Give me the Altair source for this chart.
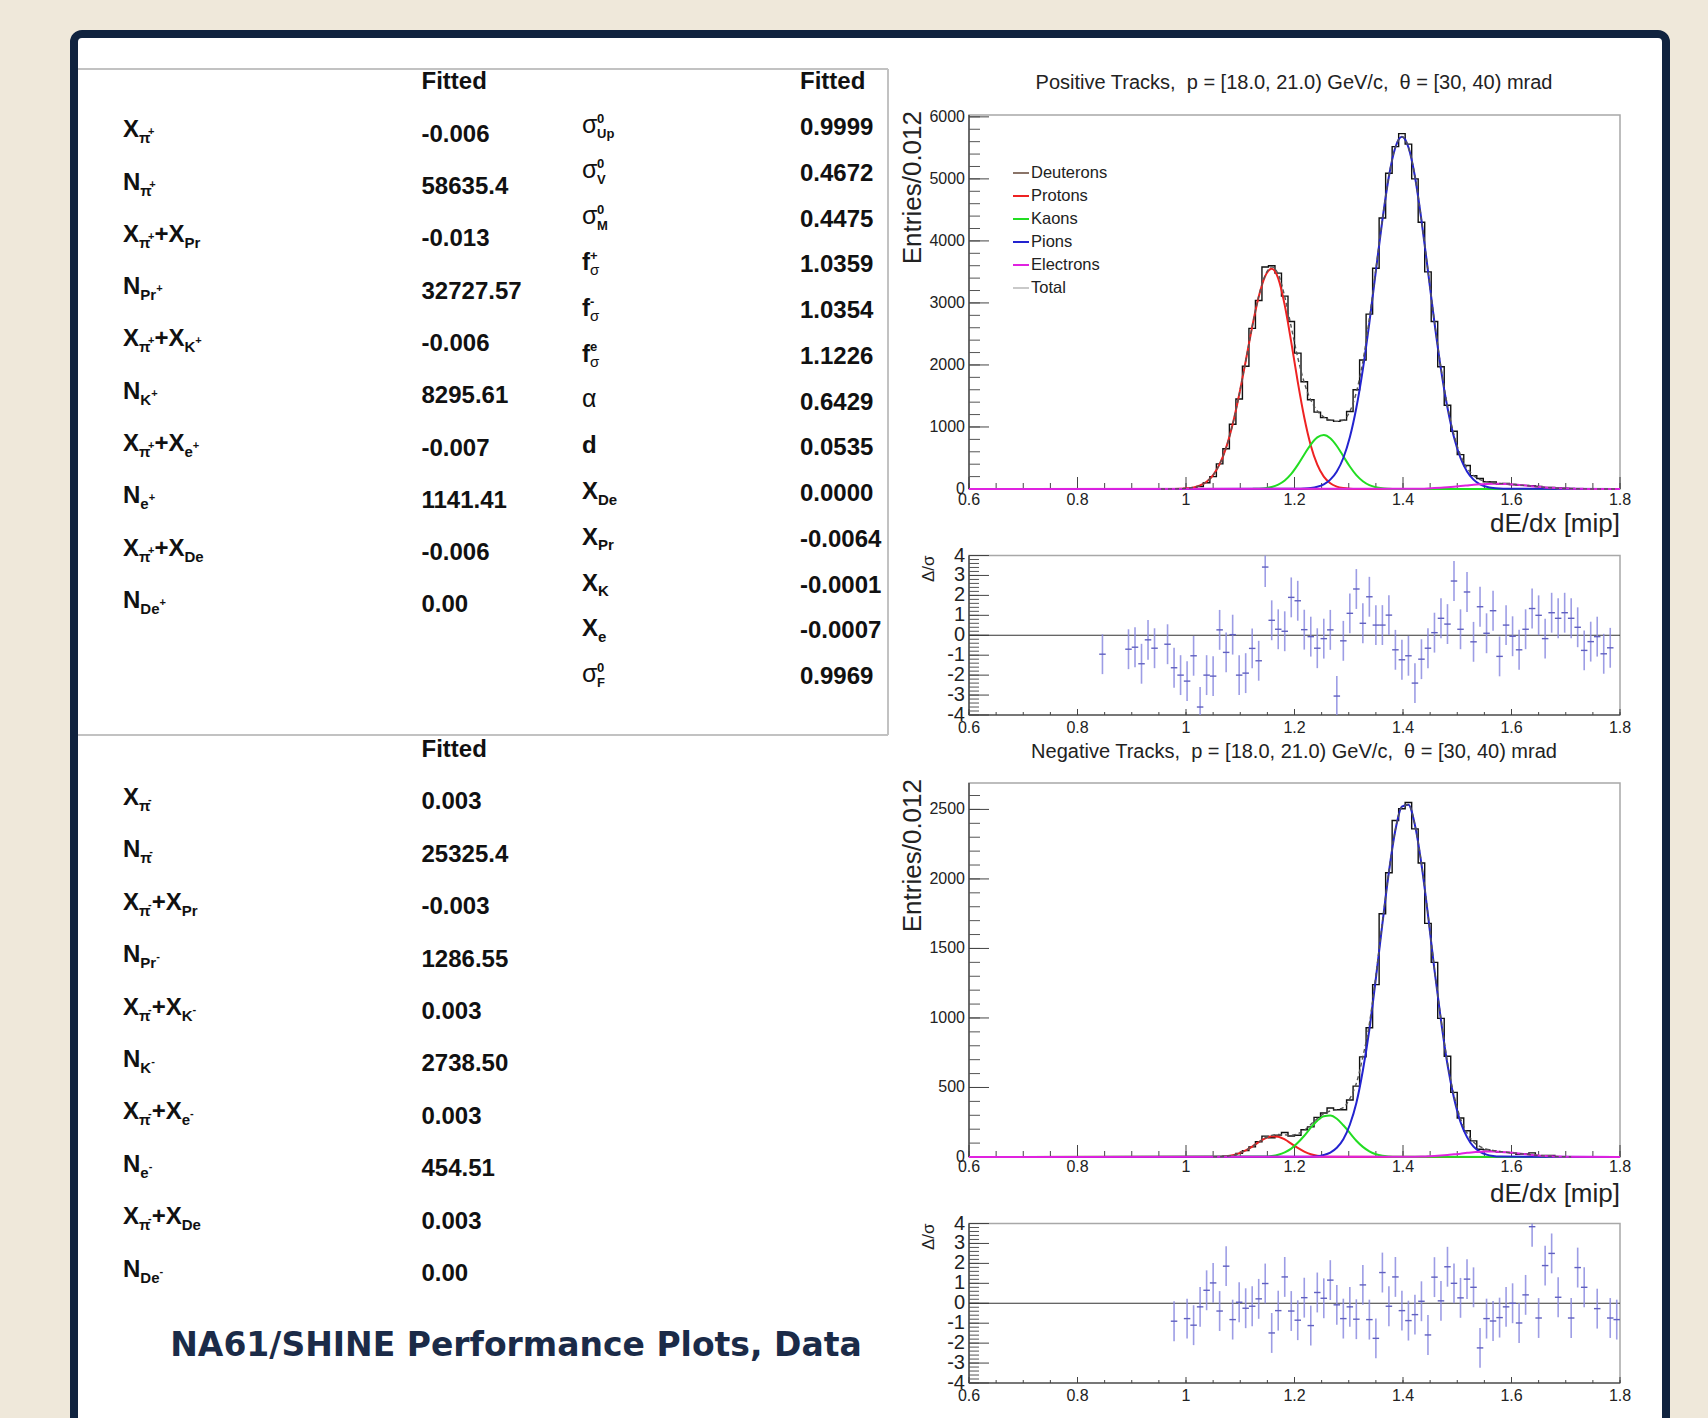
import altair as alt
import pandas as pd

W, H = 1708, 1418
FONT = "Liberation Sans"
TXT = "#222222"
NAVY = "#10233f"
BEIGE = "#efe8da"
NB = "\u00a0"

# ---------------- data ----------------
X_LO, X_HI, BIN_W, N_BINS = 0.6, 1.8, 0.012, 100
series_names = ["Deuterons", "Protons", "Kaons", "Pions", "Electrons", "Total"]
series_colors = ["#8a7468", "#ee2222", "#22dd22", "#2323cf", "#e022e0", "#c9c9c9"]

# positive tracks: entries per 0.012 bin, starting at the given bin index
pos_hist_first = 29
pos_hist = [0, 1, 1, 3, 8, 20, 40, 100, 200, 405,
            650, 1045, 1450, 1980, 2590, 3040, 3580, 3600, 3480, 3110,
            2700, 2190, 1730, 1440, 1240, 1150, 1110, 1090, 1110, 1250,
            1600, 2080, 2820, 3560, 4370, 5090, 5520, 5730, 5560, 5000,
            4300, 3500, 2700, 1970, 1350, 930, 555, 380, 215, 170,
            118, 112, 81, 88, 72, 60, 58, 55, 41, 25,
            24, 16, 13, 8, 5, 1, 1, 1, 0, 0, 0]
pos_total_first = 29
pos_total = [0, 1, 2, 5, 11, 26, 58, 118, 224, 401,
             667, 1043, 1520, 2061, 2616, 3103, 3445, 3582, 3465, 3103,
             2612, 2120, 1716, 1436, 1260, 1160, 1110, 1090, 1110, 1250,
             1560, 2055, 2745, 3543, 4346, 5043, 5511, 5680, 5510, 5043,
             4341, 3525, 2698, 1951, 1339, 872, 548, 341, 219, 151,
             118, 101, 91, 83, 74, 65, 55, 45, 35, 26,
             19, 13, 9, 6, 3, 2, 1, 0, 0, 0, 0]
pos_deut_first, pos_deut = 0, []
pos_prot_first, pos_prot = 29, [0, 1, 2, 5, 11, 26, 58, 118, 224, 401, 667, 1043, 1520, 2060, 2614, 3098,
                                3432, 3550, 3394, 2965, 2368, 1728, 1153, 703, 392, 199, 93, 39, 15, 5, 2]
pos_kaon_first, pos_kaon = 42, [0.5, 2, 5, 13, 32, 71, 138, 244, 389, 556, 717, 832, 870, 818, 693, 528,
                                362, 223, 125, 62, 28, 11, 4, 1]
pos_pion_first, pos_pion = 50, [3, 7, 16, 36, 75, 151, 283, 500, 834, 1310, 1930, 2683, 3515, 4335, 5039,
                                5510, 5680, 5510, 5039, 4335, 3515, 2683, 1930, 1310, 834, 500, 283, 151,
                                75, 36, 16, 7, 3]
pos_elec_first, pos_elec = 68, [4, 6, 10, 15, 21, 29, 38, 48, 58, 68, 76, 82, 85, 84, 80, 74, 65, 55, 45,
                                35, 26, 19, 13, 9, 6, 3, 2, 1, 0]
pos_res_bins = [20, 24, 25, 26, 27, 28] + list(range(30, 99))
pos_res = [-0.95,
           -0.7, -0.6, -1.43, -0.23, -0.65,
           -0.45, -1.63, -2.0, -2.3, -1.03, -3.6, -2.0, -2.05, 0.27, -0.86,
           0.03, -2.0, -1.9, -0.66, -1.28, 3.42, 0.75, 0.3, 0.2, 1.9,
           1.73, 0.28, -0.07, -0.65, -0.17, 0.27, -3.05, -0.28, 1.1, 2.32,
           0.6, 1.93, 0.51, 0.51, 1.01, -0.73, -1.23, -1.03, -2.4, -1.2,
           -0.65, 0.13, 0.85, 0.56, 2.72, 0.3, 2.17, -0.33, 1.43, 0.1,
           1.23, -1.06, 0.51, -0.05, -0.73, 0.3, 1.34, 1.0, -0.17, 1.13,
           0.85, 1.13, 0.85, 0.4, -0.76, -0.32, -0.07, -0.93, -0.63]

# negative tracks
neg_hist_first = 30
neg_hist = [0, 0, 0, 0, 0, 1, 2, 2, 1, 8,
            10, 26, 46, 73, 110, 150, 138, 157, 176, 151,
            156, 196, 217, 285, 316, 352, 340, 340, 410, 510,
            720, 930, 1240, 1750, 2045, 2420, 2505, 2550, 2360, 2115,
            1680, 1400, 997, 725, 465, 280, 189, 116, 56, 51,
            41, 36, 33, 30, 20, 22, 30, 9, 12, 11,
            3, 2, 0, 2, 1, 0, 0, 0, 0, 0]
neg_total_first = 37
neg_total = [1, 2, 5, 12, 26, 47, 75, 107, 137, 156,
             162, 159, 156, 167, 192, 234, 276, 312, 331, 341,
             355, 420, 530, 720, 958, 1304, 1686, 2053, 2354, 2520,
             2534, 2389, 2110, 1748, 1352, 993, 679, 444, 276, 173,
             108, 75, 57, 47, 40, 34, 30, 25, 20, 15,
             11, 7, 5, 3, 2, 1]
neg_deut_first, neg_deut = 0, []
neg_prot_first, neg_prot = 37, [1, 2, 5, 12, 26, 47, 75, 107, 134, 149, 146, 126, 96, 65, 39, 20, 9, 4, 1]
neg_kaon_first, neg_kaon = 45, [3, 7, 16, 33, 60, 102, 153, 211, 261, 293, 298, 275, 228, 173, 117, 73,
                                41, 20, 9, 4, 1.5]
neg_pion_first, neg_pion = 52, [2.5, 6, 15, 32, 66, 127, 232, 388, 622, 917, 1284, 1677, 2049, 2352, 2520,
                                2534, 2387, 2107, 1743, 1345, 983, 665, 425, 252, 143, 74, 37, 17, 7, 3]
neg_elec_first, neg_elec = 68, [2, 3, 5, 7, 10, 14, 19, 24, 30, 34, 38, 39.5, 40, 37, 34, 30, 25, 20, 15,
                                11, 7, 5, 3, 2]
neg_res_bins = [31] + list(range(33, 91)) + [92, 93, 94, 96, 98, 99]
neg_res = [-0.9,
           -0.77, -1.1, -0.18, 0.65, 1.02, -0.39, 1.86,
           -0.82, 0.05, -0.25, -0.15, 0.22, 0.99, -1.49, -0.37, 1.32, -0.39,
           -0.85, 0.28, -1.12, 0.54, 0.25, 1.16, -0.08, -0.77, -0.18, -0.8,
           0.92, -0.82, -1.76, 1.54, -0.15, 1.32, -0.37, -0.87, -0.57, 0.1,
           -1.59, 1.31, 0.12, 1.83, 1.0, 0.27, 1.21, 0.8, -2.24, -0.77,
           -0.89, -0.72, -0.18, 0.0, -0.99, 0.42, 3.84, -0.74, 1.89, 2.5,
           0.3,
           -0.74, 1.79, 0.8, -0.27, -0.74, -0.82]

# axis ticks / labels
x_major = [0.6, 0.8, 1.0, 1.2, 1.4, 1.6, 1.8]
x_labels = ["0.6", "0.8", "1", "1.2", "1.4", "1.6", "1.8"]
top_y_major = [0, 1000, 2000, 3000, 4000, 5000, 6000]
bot_y_major = [0, 500, 1000, 1500, 2000, 2500]
res_y_major = [4, 3, 2, 1, 0, -1, -2, -3, -4]

# tables
pos_labels = [
    [("X", "m"), ("π", "b"), ("+", "t")],
    [("N", "m"), ("π", "b"), ("+", "t")],
    [("X", "m"), ("π", "b"), ("+", "t"), ("+X", "m"), ("Pr", "b")],
    [("N", "m"), ("Pr", "b"), ("+", "t")],
    [("X", "m"), ("π", "b"), ("+", "t"), ("+X", "m"), ("K", "b"), ("+", "t")],
    [("N", "m"), ("K", "b"), ("+", "t")],
    [("X", "m"), ("π", "b"), ("+", "t"), ("+X", "m"), ("e", "b"), ("+", "t")],
    [("N", "m"), ("e", "b"), ("+", "t")],
    [("X", "m"), ("π", "b"), ("+", "t"), ("+X", "m"), ("De", "b")],
    [("N", "m"), ("De", "b"), ("+", "t")],
]
pos_values = ["-0.006", "58635.4", "-0.013", "32727.57", "-0.006", "8295.61", "-0.007", "1141.41",
              "-0.006", "0.00"]
neg_labels = [
    [("X", "m"), ("π", "b"), ("-", "t")],
    [("N", "m"), ("π", "b"), ("-", "t")],
    [("X", "m"), ("π", "b"), ("-", "t"), ("+X", "m"), ("Pr", "b")],
    [("N", "m"), ("Pr", "b"), ("-", "t")],
    [("X", "m"), ("π", "b"), ("-", "t"), ("+X", "m"), ("K", "b"), ("-", "t")],
    [("N", "m"), ("K", "b"), ("-", "t")],
    [("X", "m"), ("π", "b"), ("-", "t"), ("+X", "m"), ("e", "b"), ("-", "t")],
    [("N", "m"), ("e", "b"), ("-", "t")],
    [("X", "m"), ("π", "b"), ("-", "t"), ("+X", "m"), ("De", "b")],
    [("N", "m"), ("De", "b"), ("-", "t")],
]
neg_values = ["0.003", "25325.4", "-0.003", "1286.55", "0.003", "2738.50", "0.003", "454.51",
              "0.003", "0.00"]
par_labels = [
    [("σ", "g"), ("0", "p"), ("Up", "q")],
    [("σ", "g"), ("0", "p"), ("V", "q")],
    [("σ", "g"), ("0", "p"), ("M", "q")],
    [("f", "m"), ("+", "p"), ("σ", "r")],
    [("f", "m"), ("-", "p"), ("σ", "r")],
    [("f", "m"), ("e", "p"), ("σ", "r")],
    [("α", "g")],
    [("d", "m")],
    [("X", "m"), ("De", "b")],
    [("X", "m"), ("Pr", "b")],
    [("X", "m"), ("K", "b")],
    [("X", "m"), ("e", "b")],
    [("σ", "g"), ("0", "p"), ("F", "q")],
]
par_values = ["0.9999", "0.4672", "0.4475", "1.0359", "1.0354", "1.1226", "0.6429", "0.0535",
              "0.0000", "-0.0064", "-0.0001", "-0.0007", "0.9969"]

# ---------------- layout constants ----------------
X0, X1 = 969, 1620          # pixel range of the dE/dx axis
CHAR_W = {'X': .667, 'N': .722, '+': .584, 'P': .667, 'r': .389, 'K': .722, 'e': .556, 'D': .722,
          'U': .722, 'p': .611, 'V': .667, 'M': .833, 'F': .611, 'f': .333, 'd': .611, '0': .556,
          'π': .6, '-': .333, 'σ': .6, 'α': .6}

LEFT_ROLES = {'m': (24, 'bold', -4.5), 'b': (15, 'bold', 3.5), 't': (11, 'bold', -2.5)}
RIGHT_ROLES = {'m': (24, 'bold', -2), 'g': (25, 'normal', -3.5), 'b': (15, 'bold', 5.5),
               'p': (13, 'bold', -9.5), 'q': (13, 'bold', 6), 'r': (15, 'normal', 5)}

cscale = alt.Scale(domain=series_names, range=series_colors)
one = pd.DataFrame({'a': [0]})


def centers(first, n):
    return [round(X_LO + BIN_W * (first + k + 0.5), 4) for k in range(n)]


def layout(segs, x0, roles):
    out, x, pending = [], x0, None
    for k, (txt, role) in enumerate(segs):
        size = roles[role][0]
        w = sum(CHAR_W.get(c, 0.556) for c in txt) * size
        nxt = segs[k + 1][1] if k + 1 < len(segs) else None
        out.append((txt, role, x))
        if role == 'p' and nxt in ('q', 'r'):
            pending = w
            continue
        if pending is not None:
            w = max(w, pending)
            pending = None
        x += w
    return out


def table_chart(labels, values, row0, step, lab_x, val_x, roles):
    n = len(values)
    rows = []
    for r, segs in enumerate(labels):
        for txt, role, px in layout(segs, lab_x, roles):
            rows.append({'row': r, 'txt': txt, 'role': role, 'px': round(px, 1)})
    seg_df = pd.DataFrame(rows)
    val_df = pd.DataFrame({'row': list(range(n)), 'txt': values})
    ys = alt.Scale(domain=[0, n - 1], range=[row0, row0 + step * (n - 1)])
    xs = alt.Scale(domain=[0, W], range=[0, W])
    layers = [alt.Chart(val_df).mark_text(font=FONT, fontSize=24, fontWeight='bold', align='left',
                                          baseline='middle', color='#111').encode(
        x=alt.value(val_x), y=alt.Y('row:Q', scale=ys, axis=None), text='txt:N')]
    for role, (size, weight, dy) in roles.items():
        layers.append(alt.Chart(seg_df).transform_filter(alt.datum.role == role).mark_text(
            font=FONT, fontSize=size, fontWeight=weight, dy=dy, align='left', baseline='middle',
            color='#111').encode(x=alt.X('px:Q', scale=xs, axis=None),
                                 y=alt.Y('row:Q', scale=ys, axis=None), text='txt:N'))
    return alt.layer(*layers)


def frame_layers(xs, ys, y_dom, y_rng, y_major, y_labels, y_minor, xlab_y,
                 xmaj_len, xmin_len, ymaj_len, ymin_len, ylab_size):
    ybase = y_rng[0]
    fdf = pd.DataFrame({'x0': [X_LO], 'x1': [X_HI], 'y0': [y_dom[0]], 'y1': [y_dom[1]]})
    L = [
        alt.Chart(fdf).mark_rect(fillOpacity=0, stroke='#a8a8a8', strokeWidth=1.5).encode(
            x=alt.X('x0:Q', scale=xs, axis=None), x2=alt.X2('x1'),
            y=alt.Y('y0:Q', scale=ys, axis=None), y2=alt.Y2('y1')),
        alt.Chart(fdf).mark_rule(color='#333', strokeWidth=1.2).encode(
            x=alt.X('x0:Q', scale=xs, axis=None), x2=alt.X2('x1'),
            y=alt.Y('y0:Q', scale=ys, axis=None)),
        alt.Chart(fdf).mark_rule(color='#333', strokeWidth=1.2).encode(
            x=alt.X('x0:Q', scale=xs, axis=None),
            y=alt.Y('y0:Q', scale=ys, axis=None), y2=alt.Y2('y1')),
    ]
    x_minor = [round(X_LO + 0.05 * k, 3) for k in range(25)]
    L.append(alt.Chart(pd.DataFrame({'t': x_minor})).mark_rule(color='#444', strokeWidth=1).encode(
        x=alt.X('t:Q', scale=xs, axis=None), y=alt.value(ybase), y2=alt.value(ybase - xmin_len)))
    L.append(alt.Chart(pd.DataFrame({'t': x_major})).mark_rule(color='#444', strokeWidth=1).encode(
        x=alt.X('t:Q', scale=xs, axis=None), y=alt.value(ybase), y2=alt.value(ybase - xmaj_len)))
    L.append(alt.Chart(pd.DataFrame({'t': y_minor})).mark_rule(color='#555', strokeWidth=1).encode(
        y=alt.Y('t:Q', scale=ys, axis=None), x=alt.value(X0), x2=alt.value(X0 + ymin_len)))
    L.append(alt.Chart(pd.DataFrame({'t': y_major})).mark_rule(color='#444', strokeWidth=1).encode(
        y=alt.Y('t:Q', scale=ys, axis=None), x=alt.value(X0), x2=alt.value(X0 + ymaj_len)))
    L.append(alt.Chart(pd.DataFrame({'t': x_major, 'lab': x_labels})).mark_text(
        font=FONT, fontSize=16, color=TXT, align='center', baseline='middle').encode(
        x=alt.X('t:Q', scale=xs, axis=None), y=alt.value(xlab_y), text='lab:N'))
    L.append(alt.Chart(pd.DataFrame({'t': y_major, 'lab': y_labels})).mark_text(
        font=FONT, fontSize=ylab_size, color=TXT, align='right', baseline='middle').encode(
        y=alt.Y('t:Q', scale=ys, axis=None), x=alt.value(X0 - 4), text='lab:N'))
    return L


def main_panel(hist_first, hist, total_first, total, comps, y_dom, y_rng, y_major, y_minor,
               title, title_y, xlab_y, xtitle_y):
    xs = alt.Scale(domain=[X_LO, X_HI], range=[X0, X1])
    ys = alt.Scale(domain=y_dom, range=y_rng)
    L = frame_layers(xs, ys, y_dom, y_rng, y_major, [str(v) for v in y_major], y_minor, xlab_y,
                     12, 6, 20, 11, 16)
    full = [0] * hist_first + hist + [0] * (N_BINS - hist_first - len(hist))
    hdf = pd.DataFrame({'x': centers(0, N_BINS), 'y': full})
    L.append(alt.Chart(hdf).mark_line(interpolate='step', color='#111', strokeWidth=1.4).encode(
        x=alt.X('x:Q', scale=xs, axis=None), y=alt.Y('y:Q', scale=ys, axis=None)))
    frames = []
    for name, first, vals in comps:
        frames.append(pd.DataFrame({'x': [X_LO] + centers(first, len(vals)) + [X_HI],
                                    'y': [0] + list(vals) + [0], 'series': name}))
    cdf = pd.concat(frames, ignore_index=True)
    L.append(alt.Chart(cdf).mark_line(interpolate='monotone', strokeWidth=2).encode(
        x=alt.X('x:Q', scale=xs, axis=None), y=alt.Y('y:Q', scale=ys, axis=None),
        color=alt.Color('series:N', scale=cscale, legend=None)))
    tdf = pd.DataFrame({'x': centers(total_first, len(total)), 'y': total})
    L.append(alt.Chart(tdf).mark_line(interpolate='monotone', strokeDash=[4, 3], color='#555',
                                      strokeWidth=1.4).encode(
        x=alt.X('x:Q', scale=xs, axis=None), y=alt.Y('y:Q', scale=ys, axis=None)))
    L.append(alt.Chart(one).mark_text(text=title, font=FONT, fontSize=20, color=TXT,
                                      align='center', baseline='middle').encode(
        x=alt.value(1294), y=alt.value(title_y)))
    L.append(alt.Chart(one).mark_text(text="dE/dx [mip]", font=FONT, fontSize=26, color=TXT,
                                      align='right', baseline='middle').encode(
        x=alt.value(X1), y=alt.value(xtitle_y)))
    L.append(alt.Chart(one).mark_text(text="Entries/0.012", font=FONT, fontSize=26, color=TXT,
                                      align='right', baseline='middle', angle=270).encode(
        x=alt.value(913), y=alt.value(y_rng[1] - 4)))
    return alt.layer(*L)


def res_panel(bins, vals, y_rng, xlab_y):
    xs = alt.Scale(domain=[X_LO, X_HI], range=[X0, X1])
    ys = alt.Scale(domain=[-4, 4], range=y_rng, clamp=True)
    y_minor = [round(-4 + 0.2 * k, 2) for k in range(41)]
    L = frame_layers(xs, ys, [-4, 4], y_rng, res_y_major, [str(v) for v in res_y_major], y_minor,
                     xlab_y, 6, 3, 20, 10, 20)
    zdf = pd.DataFrame({'x0': [X_LO], 'x1': [X_HI], 'z': [0]})
    L.append(alt.Chart(zdf).mark_rule(color='#333', strokeWidth=1.2).encode(
        x=alt.X('x0:Q', scale=xs, axis=None), x2=alt.X2('x1'), y=alt.Y('z:Q', scale=ys, axis=None)))
    xc = [round(X_LO + BIN_W * (b + 0.5), 4) for b in bins]
    rdf = pd.DataFrame({'x': xc, 'r': vals})
    rdf['lo'] = rdf['r'] - 1
    rdf['hi'] = rdf['r'] + 1
    rdf['xl'] = rdf['x'] - BIN_W / 2
    rdf['xr'] = rdf['x'] + BIN_W / 2
    L.append(alt.Chart(rdf).mark_rule(color='#8c8ce0', strokeWidth=1.6, opacity=0.85).encode(
        x=alt.X('x:Q', scale=xs, axis=None), y=alt.Y('lo:Q', scale=ys, axis=None), y2=alt.Y2('hi')))
    L.append(alt.Chart(rdf).mark_rule(color='#6060c0', strokeWidth=1.4).encode(
        x=alt.X('xl:Q', scale=xs, axis=None), x2=alt.X2('xr'), y=alt.Y('r:Q', scale=ys, axis=None)))
    L.append(alt.Chart(one).mark_text(text="Δ/σ", font=FONT, fontSize=17, color=TXT,
                                      align='right', baseline='middle', angle=270).encode(
        x=alt.value(929), y=alt.value(y_rng[1])))
    return alt.layer(*L)


# ---------------- decoration ----------------
frame = alt.Chart(one).mark_rect(fill='white', stroke=NAVY, strokeWidth=8, cornerRadius=8).encode(
    x=alt.value(74), x2=alt.value(1666), y=alt.value(34), y2=alt.value(1490))
box_top = alt.Chart(one).mark_rule(color='#c2c2c2', strokeWidth=2).encode(
    x=alt.value(78), x2=alt.value(888), y=alt.value(69))
box_right = alt.Chart(one).mark_rule(color='#c2c2c2', strokeWidth=2).encode(
    x=alt.value(888), y=alt.value(69), y2=alt.value(735))
box_bottom = alt.Chart(one).mark_rule(color='#c2c2c2', strokeWidth=2).encode(
    x=alt.value(78), x2=alt.value(888), y=alt.value(735))


def header(x, y):
    return alt.Chart(one).mark_text(text="Fitted", font=FONT, fontSize=24, fontWeight='bold',
                                    color='#111', align='left', baseline='middle').encode(
        x=alt.value(x), y=alt.value(y))


big_title = alt.Chart(one).mark_text(text="NA61/SHINE Performance Plots, Data", font="DejaVu Sans",
                                     fontSize=33, fontWeight='bold', color='#1b2b48',
                                     align='center', baseline='middle').encode(
    x=alt.value(516), y=alt.value(1346))

legend_df = pd.DataFrame({'k': list(range(len(series_names))), 'series': series_names})
lys = alt.Scale(domain=[0, 5], range=[173, 288])
legend = alt.layer(
    alt.Chart(legend_df).mark_rule(strokeWidth=2).encode(
        x=alt.value(1013), x2=alt.value(1029), y=alt.Y('k:Q', scale=lys, axis=None),
        color=alt.Color('series:N', scale=cscale, legend=None)),
    alt.Chart(legend_df).mark_text(font=FONT, fontSize=16.5, color=TXT, align='left',
                                   baseline='middle').encode(
        x=alt.value(1031), y=alt.Y('k:Q', scale=lys, axis=None), text='series:N'),
)

pos_comps = [("Deuterons", pos_deut_first, pos_deut), ("Protons", pos_prot_first, pos_prot),
             ("Kaons", pos_kaon_first, pos_kaon), ("Pions", pos_pion_first, pos_pion),
             ("Electrons", pos_elec_first, pos_elec)]
neg_comps = [("Deuterons", neg_deut_first, neg_deut), ("Protons", neg_prot_first, neg_prot),
             ("Kaons", neg_kaon_first, neg_kaon), ("Pions", neg_pion_first, neg_pion),
             ("Electrons", neg_elec_first, neg_elec)]

pos_title = "Positive Tracks," + NB * 2 + "p = [18.0, 21.0) GeV/c," + NB * 2 + "θ = [30, 40) mrad"
neg_title = "Negative Tracks," + NB * 2 + "p = [18.0, 21.0) GeV/c," + NB * 2 + "θ = [30, 40) mrad"

top_main = main_panel(pos_hist_first, pos_hist, pos_total_first, pos_total, pos_comps,
                      [0, 6030], [489, 115], top_y_major, list(range(0, 6001, 200)),
                      pos_title, 83, 500, 524)
bot_main = main_panel(neg_hist_first, neg_hist, neg_total_first, neg_total, neg_comps,
                      [0, 2690], [1157, 783], bot_y_major, list(range(0, 2601, 100)),
                      neg_title, 752, 1167, 1194)
top_res = res_panel(pos_res_bins, pos_res, [715, 555.5], 728)
bot_res = res_panel(neg_res_bins, neg_res, [1383, 1223.5], 1396)

pos_table = table_chart(pos_labels, pos_values, 134.7, 52.3, 123, 421.5, LEFT_ROLES)
par_table = table_chart(par_labels, par_values, 128, 45.75, 582, 800, RIGHT_ROLES)
neg_table = table_chart(neg_labels, neg_values, 802.4, 52.4, 123, 421.5, LEFT_ROLES)

chart = alt.layer(
    frame, box_top, box_right, box_bottom,
    header(421.5, 82), header(800, 82), header(421.5, 750),
    pos_table, par_table, neg_table, big_title,
    top_main, legend, top_res, bot_main, bot_res,
).resolve_scale(x='independent', y='independent').properties(
    width=W, height=H, background=BEIGE, padding=0,
    autosize=alt.AutoSizeParams(type='none'),
).configure_view(strokeWidth=0)

chart.save("out.html", embed_options={"renderer": "svg", "actions": False})
